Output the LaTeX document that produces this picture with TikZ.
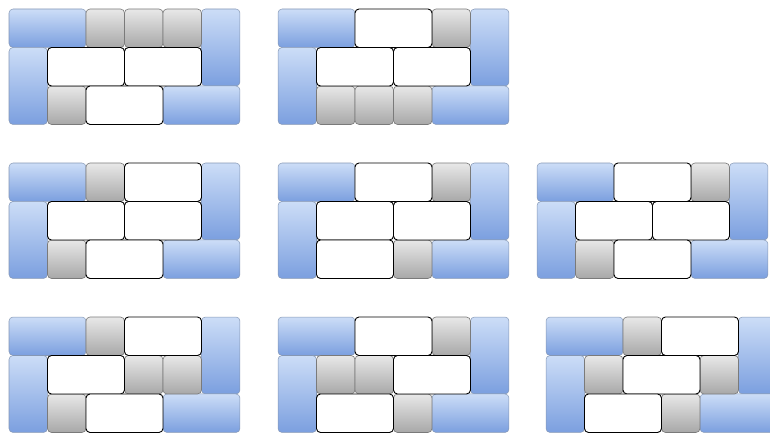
\documentclass[tikz,border=0pt]{standalone}
\usetikzlibrary{positioning}

\definecolor{blueTop}{HTML}{CCDDF7}
\definecolor{blueBot}{HTML}{7B9FDF}
\definecolor{blueLine}{HTML}{8597B4}
\definecolor{grayTop}{HTML}{E8E8E8}
\definecolor{grayBot}{HTML}{A8A8A8}
\definecolor{grayLine}{HTML}{7A7A7A}

% one board: blue frame, then gray squares (c/r), then white dominoes (c/r)
\newcommand{\tileboard}[4]{%
  \begin{scope}[shift={(#1,#2)}, x=1.3475cm, y=-1.3475cm]
    \foreach \c/\r/\w/\h in {0/0/2/1, 0/1/1/2, 5/0/1/2, 4/2/2/1}
      \draw[frameblock] (\c,\r) rectangle ++(\w,\h);
    \foreach \c/\r in {#3}
      \draw[squareblock] (\c,\r) rectangle ++(1,1);
    \foreach \c/\r in {#4}
      \draw[dominoblock] (\c,\r) rectangle ++(2,1);
  \end{scope}}

\begin{document}
\begin{tikzpicture}[
    x=0.035cm, y=-0.035cm,
    frameblock/.style={draw=blueLine, line width=0.5pt, rounded corners=4pt,
                       top color=blueTop, bottom color=blueBot},
    squareblock/.style={draw=grayLine, line width=0.6pt, rounded corners=4pt,
                        top color=grayTop, bottom color=grayBot},
    dominoblock/.style={draw=black, line width=0.9pt, rounded corners=4pt,
                        fill=white},
]
    \clip (0,0) rectangle (770,433);

    % first row
    \tileboard{9}{9}{2/0, 3/0, 4/0, 1/2}{1/1, 3/1, 2/2}
    \tileboard{278}{9}{4/0, 1/2, 2/2, 3/2}{2/0, 1/1, 3/1}

    % second row
    \tileboard{9}{163}{2/0, 1/2}{3/0, 1/1, 3/1, 2/2}
    \tileboard{278}{163}{4/0, 3/2}{2/0, 1/1, 3/1, 1/2}
    \tileboard{537}{163}{4/0, 1/2}{2/0, 1/1, 3/1, 2/2}

    % third row
    \tileboard{9}{317}{2/0, 3/1, 4/1, 1/2}{3/0, 1/1, 2/2}
    \tileboard{278}{317}{4/0, 1/1, 2/1, 3/2}{2/0, 3/1, 1/2}
    \tileboard{546}{317}{2/0, 1/1, 4/1, 3/2}{3/0, 2/1, 1/2}
\end{tikzpicture}
\end{document}
